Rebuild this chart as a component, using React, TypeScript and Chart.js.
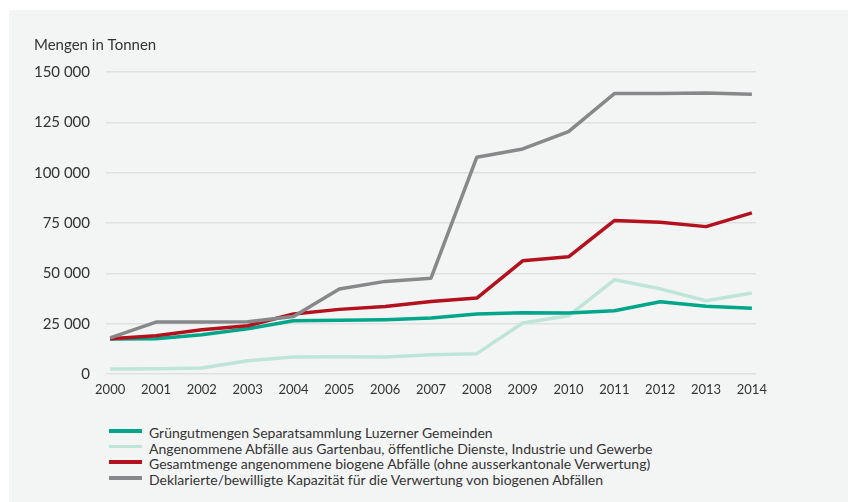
import React, { useEffect, useRef } from "react";
import { Chart, registerables } from "chart.js";

Chart.register(...registerables);

const FONT = "Lato, 'Open Sans', sans-serif";
const TEXT = "#333333";

const years = [2000, 2001, 2002, 2003, 2004, 2005, 2006, 2007, 2008, 2009, 2010, 2011, 2012, 2013, 2014];

const gruengut = [17400, 17500, 19500, 22500, 26400, 26700, 27000, 27800, 29800, 30400, 30300, 31400, 35900, 33600, 32600];
const angenommene = [2500, 2600, 3000, 6600, 8400, 8600, 8400, 9600, 10100, 25300, 28900, 46800, 42300, 36400, 40200];
const gesamtmenge = [17500, 19000, 22000, 24000, 29800, 32100, 33500, 36000, 37700, 56200, 58200, 76200, 75400, 73200, 80000];
const kapazitaet = [17900, 25800, 25800, 25900, 28600, 42200, 46000, 47600, 107700, 111800, 120400, 139300, 139300, 139600, 138900];

const seriesLabels = [
  "Grüngutmengen Separatsammlung Luzerner Gemeinden",
  "Angenommene Abfälle aus Gartenbau, öffentliche Dienste, Industrie und Gewerbe",
  "Gesamtmenge angenommene biogene Abfälle (ohne ausserkantonale Verwertung)",
  "Deklarierte/bewilligte Kapazität für die Verwertung von biogenen Abfällen",
];
const seriesValues = [gruengut, angenommene, gesamtmenge, kapazitaet];
const seriesColors = ["#00a68a", "#bfe4da", "#b3111d", "#87888a"];
const drawOrder = [2, 3, 1, 0];

const yTicks = [0, 25000, 50000, 75000, 100000, 125000, 150000];
const yTitle = "Mengen in Tonnen";

const fmt = (v: number) => String(v).replace(/\B(?=(\d{3})+(?!\d))/g, " ");

export default function App() {
  const ref = useRef<HTMLCanvasElement>(null);

  useEffect(() => {
    document.body.style.margin = "0";
    const canvas = ref.current!;
    const chart = new Chart(canvas, {
      type: "line",
      data: {
        datasets: seriesValues.map((vals, i) => ({
          label: seriesLabels[i],
          data: years.map((y, j) => ({ x: y, y: vals[j] })),
          borderColor: seriesColors[i],
          backgroundColor: seriesColors[i],
          borderWidth: 3.5,
          pointRadius: 0,
          tension: 0,
          fill: false,
          borderJoinStyle: "round" as const,
          order: drawOrder[i],
        })),
      },
      options: {
        responsive: false,
        animation: false,
        layout: { padding: { left: 34, right: 94, top: 36, bottom: 0 } },
        plugins: {
          legend: { display: false },
          tooltip: { enabled: false },
          title: {
            display: true,
            text: yTitle,
            align: "start",
            color: TEXT,
            font: { family: FONT, size: 15, weight: "normal" },
            padding: { top: 0, bottom: 18 },
          },
        },
        scales: {
          x: {
            type: "linear",
            min: 1999.91,
            max: 2014.09,
            grid: { display: false, drawTicks: false },
            border: { display: false },
            ticks: {
              color: TEXT,
              font: { family: FONT, size: 13 },
              padding: 8,
              autoSkip: false,
              maxRotation: 0,
              callback: (v: any) => String(v),
            },
            afterBuildTicks: (s: any) => {
              s.ticks = years.map((v) => ({ value: v }));
            },
            afterFit: (s: any) => {
              s.height = 26;
            },
          },
          y: {
            min: 0,
            max: 150000,
            grid: { color: "#dfe1e1", lineWidth: 1.5, drawTicks: false },
            border: { display: false },
            ticks: {
              color: TEXT,
              font: { family: FONT, size: 15 },
              padding: 16,
              callback: (v: any) => fmt(Number(v)),
            },
            afterBuildTicks: (s: any) => {
              s.ticks = yTicks.map((v) => ({ value: v }));
            },
            afterFit: (s: any) => {
              s.width = 72;
            },
          },
        },
      },
    });
    return () => chart.destroy();
  }, []);

  return (
    <div style={{ position: "relative", width: 850, height: 502, overflow: "hidden" }}>
      <div
        style={{
          position: "absolute",
          left: 9,
          top: 10,
          width: 839,
          height: 492,
          background: "#f3f5f4",
        }}
      />
      <canvas
        ref={ref}
        width={850}
        height={400}
        style={{ position: "absolute", left: 0, top: 0, width: 850, height: 400 }}
      />
      <div style={{ position: "absolute", left: 109, top: 425, fontFamily: FONT, fontSize: 14, color: TEXT }}>
        {seriesLabels.map((lab, i) => (
          <div key={i} style={{ display: "flex", alignItems: "center", height: 15.7, whiteSpace: "nowrap" }}>
            <span
              style={{
                display: "inline-block",
                width: 33,
                height: 3.5,
                background: seriesColors[i],
                marginRight: 7,
                position: "relative",
                top: -2,
              }}
            />
            <span style={{ lineHeight: "15.7px" }}>{lab}</span>
          </div>
        ))}
      </div>
    </div>
  );
}
